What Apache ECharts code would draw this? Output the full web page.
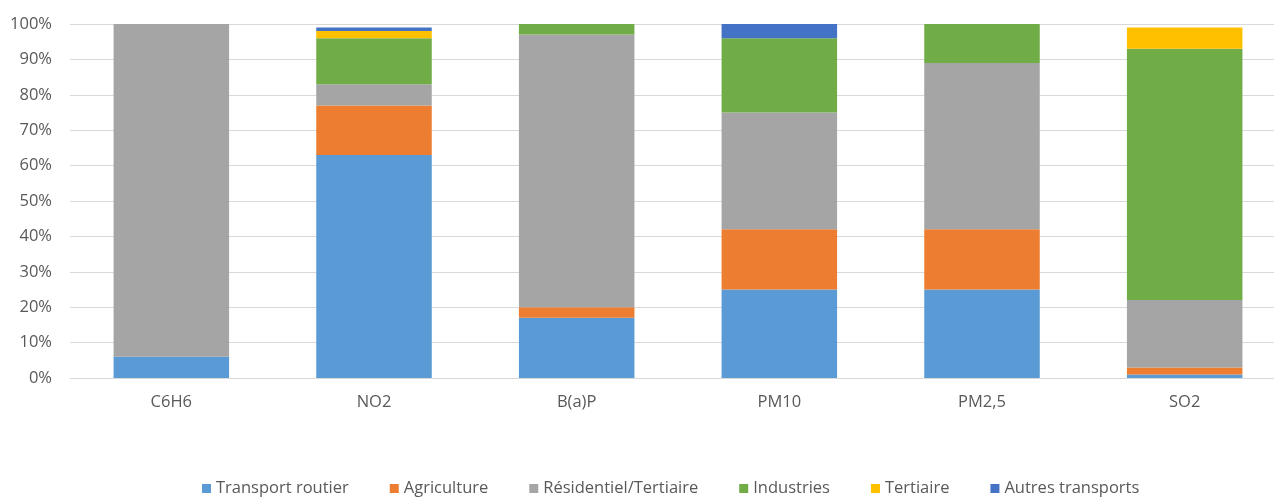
<!DOCTYPE html>
<html>
<head>
<meta charset="utf-8">
<script src="https://cdn.jsdelivr.net/npm/echarts@6/dist/echarts.min.js"></script>
<style>
  html, body { margin: 0; padding: 0; background: #ffffff; overflow: hidden; }
  /* plot runs slightly past the right edge of the window */
  #chart { width: 1286px; height: 497px; }
</style>
</head>
<body>
<div id="chart"></div>
<script>
// Pollutants (categories) and share of emissions by sector, in percent
const categories = ['C6H6', 'NO2', 'B(a)P', 'PM10', 'PM2,5', 'SO2'];
const transportRoutier = [6, 63, 17, 25, 25, 1];
const agriculture      = [0, 14, 3, 17, 17, 2];
const residentiel      = [94, 6, 77, 33, 47, 19];
const industries       = [0, 13, 3, 21, 11, 71];
const tertiaire        = [0, 2, 0, 0, 0, 6];
const autresTransports = [0, 1, 0, 4, 0, 0];
const yTicks = [0, 10, 20, 30, 40, 50, 60, 70, 80, 90, 100];

const font = '"Open Sans", "Liberation Sans", sans-serif';
const textColor = '#595959';
const fontSize = 16.5;

const seriesDefs = [
  { name: 'Transport routier', data: transportRoutier, color: '#5B9BD5' },
  { name: 'Agriculture', data: agriculture, color: '#ED7D31' },
  { name: 'Résidentiel/Tertiaire', data: residentiel, color: '#A5A5A5' },
  { name: 'Industries', data: industries, color: '#70AD47' },
  { name: 'Tertiaire', data: tertiaire, color: '#FFC000' },
  { name: 'Autres transports', data: autresTransports, color: '#4472C4' }
];

const chart = echarts.init(document.getElementById('chart'), null, { renderer: 'canvas' });
chart.setOption({
  animation: false,
  textStyle: { fontFamily: font },
  grid: { left: 70, top: 24, right: 0, height: 354 },
  legend: {
    top: 479,
    left: 202,
    padding: 0,
    itemWidth: 9,
    itemHeight: 9,
    itemGap: 41,
    icon: 'rect',
    textStyle: { color: textColor, fontSize: fontSize, lineHeight: 19, fontFamily: font },
    data: seriesDefs.map(s => s.name)
  },
  xAxis: {
    type: 'category',
    data: categories,
    axisLine: { lineStyle: { color: '#D9D9D9', width: 1 } },
    axisTick: { show: false },
    axisLabel: { color: textColor, fontSize: fontSize, margin: 16 }
  },
  yAxis: {
    type: 'value',
    min: yTicks[0],
    max: yTicks[yTicks.length - 1],
    interval: 10,
    axisLine: { show: false },
    axisTick: { show: false },
    splitLine: { lineStyle: { color: '#D9D9D9', width: 1 } },
    axisLabel: { color: textColor, fontSize: fontSize, margin: 18, formatter: v => v + '%' }
  },
  series: seriesDefs.map(s => ({
    name: s.name,
    type: 'bar',
    stack: 'total',
    barWidth: '57%',
    data: s.data,
    itemStyle: { color: s.color }
  }))
});
</script>
</body>
</html>
